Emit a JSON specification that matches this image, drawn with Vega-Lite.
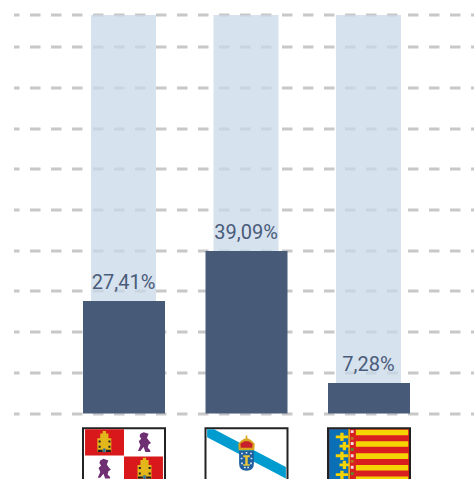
{
"$schema":"https://vega.github.io/schema/vega-lite/v6.json",
"width":460,"height":479,
"autosize":{"type":"none"},
"padding":{"left":14,"top":0,"right":0,"bottom":0},
"background":"white",
"config":{"view":{"stroke":null}},
"data":{"values":[
{"region":"Castilla y León","value":27.64,"label":"27,41%","background":97.9},
{"region":"Galicia","value":39.9,"label":"39,09%","background":97.9},
{"region":"Comunidad Valenciana","value":7.49,"label":"7,28%","background":97.9}
]},
"encoding":{
"x":{"field":"region","type":"nominal","sort":null,"axis":null,"scale":{"paddingInner":0,"paddingOuter":0.3776,"align":0.527}}
},
"layer":[
{"mark":{"type":"bar","width":65,"color":"#c8d8e8","opacity":0.75,"xOffset":-0.5},
 "encoding":{"y":{"field":"background","type":"quantitative","title":null,
  "scale":{"domain":[-16.09,101.6],"nice":false,"zero":false},
  "axis":{"values":[0,10,20,30,40,50,60,70,80,90,97.8],"translate":0,"labels":false,"ticks":false,"domain":false,"title":null,"grid":true,"gridColor":"#c8c8c8","gridWidth":2.8,"gridDash":[10.5,10.5],"gridDashOffset":5}}}},
{"mark":{"type":"bar","width":82,"color":"#475a77"},
 "encoding":{"y":{"field":"value","type":"quantitative","title":null}}},
{"mark":{"type":"text","font":"Roboto","fontSize":20,"color":"#4a5c7a","baseline":"alphabetic","dy":-12,"dx":-0.5},
 "encoding":{"y":{"field":"value","type":"quantitative","title":null},"text":{"field":"label"}}},

{"transform":[{"filter":"datum.region==='Castilla y León'"}],
 "layer":[
 {"mark":{"type":"point","shape":"M-1,-.675L1,-.675L1,.675L-1,.675Z","size":6724,"filled":true,"fill":"white","stroke":"#222222","strokeWidth":2,"opacity":1}},
 {"mark":{"type":"point","shape":"M-.95,-.65L0,-.65L0,-.012L-.95,-.012Z M0,.012L.95,.012L.95,.65L0,.65Z","size":6724,"filled":true,"color":"#d9181c","strokeWidth":0,"opacity":1}},
 {"mark":{"type":"point","shape":"M-.65,-.10L-.65,-.43L-.58,-.43L-.58,-.55L-.52,-.55L-.52,-.61L-.44,-.61L-.44,-.55L-.38,-.55L-.38,-.43L-.31,-.43L-.31,-.10Z M.33,.55L.33,.22L.40,.22L.40,.10L.46,.10L.46,.04L.54,.04L.54,.10L.60,.10L.60,.22L.67,.22L.67,.55Z","size":6724,"filled":true,"color":"#e3b71c","strokeWidth":0,"opacity":1}},
 {"mark":{"type":"point","shape":"M-.62,-.38h.05v.05h-.05z M-.62,-.25h.05v.05h-.05z M-.38,-.38h.05v.05h-.05z M-.38,-.25h.05v.05h-.05z M-.64,-.15h.12v.05h-.12z M-.44,-.15h.12v.05h-.12z M.36,.27h.05v.05h-.05z M.36,.40h.05v.05h-.05z M.60,.27h.05v.05h-.05z M.60,.40h.05v.05h-.05z M.34,.50h.12v.05h-.12z M.54,.50h.12v.05h-.12z","size":6724,"filled":true,"color":"#222222","strokeWidth":0,"opacity":1}},
 {"mark":{"type":"point","shape":"M-.51,-.18h.06v.09h-.06z M.47,.47h.06v.09h-.06z","size":6724,"filled":true,"color":"#2f6f9f","strokeWidth":0,"opacity":1}},
 {"mark":{"type":"point","shape":"M.4,-.54l.08,-.04l.12,.04l-.04,.1l.06,.08l.04,.04l-.06,.04l-.02,.08l.06,.06l0,.04l-.12,0l-.04,-.12l-.08,.1l-.06,0l.06,-.14l-.04,-.1l.06,-.06l-.04,-.06z M-.58,.11l.08,-.04l.12,.04l-.04,.1l.06,.08l.04,.04l-.06,.04l-.02,.08l.06,.06l0,.04l-.12,0l-.04,-.12l-.08,.1l-.06,0l.06,-.14l-.04,-.1l.06,-.06l-.04,-.06z","size":6724,"filled":true,"color":"#6f2f73","strokeWidth":0,"opacity":1}}
 ],
 "encoding":{"y":{"datum":-10.44,"type":"quantitative","title":null}}},

{"transform":[{"filter":"datum.region==='Galicia'"}],
 "layer":[
 {"mark":{"type":"point","shape":"M-1,-.675L1,-.675L1,.675L-1,.675Z","size":6724,"filled":true,"fill":"white","stroke":"#222222","strokeWidth":2,"opacity":1}},
 {"mark":{"type":"point","shape":"M-.96,-.65L-.79,-.65L.96,.27L.96,.55L-.96,-.46Z","size":6724,"filled":true,"color":"#009ccf","strokeWidth":0,"opacity":1}},
 {"mark":{"type":"point","shape":"M-.19,-.14L-.2,-.3Q-.1,-.42,0,-.44Q.1,-.42,.2,-.3L.19,-.14Z M-.02,-.5h.04v.08h-.04z","size":6724,"filled":true,"color":"#d9a520","strokeWidth":0,"opacity":1}},
 {"mark":{"type":"point","shape":"M-.14,-.2L-.15,-.3L-.05,-.36L.05,-.36L.15,-.3L.14,-.2Z","size":6724,"filled":true,"color":"#c8202a","strokeWidth":0,"opacity":1}},
 {"mark":{"type":"point","shape":"M-.18,-.13L.18,-.13L.18,.18Q.18,.35,0,.36Q-.18,.35,-.18,.18Z","size":6724,"filled":true,"color":"#1f5f9f","strokeWidth":0,"opacity":1}},
 {"mark":{"type":"point","shape":"M-.13,-.08h.04v.04h-.04z M.09,-.08h.04v.04h-.04z M-.02,-.1h.04v.04h-.04z M-.14,.04h.04v.04h-.04z M.1,.04h.04v.04h-.04z M-.13,.16h.04v.04h-.04z M.09,.16h.04v.04h-.04z M-.06,.26h.04v.04h-.04z M.02,.26h.04v.04h-.04z","size":6724,"filled":true,"color":"#e8eef4","strokeWidth":0,"opacity":1}},
 {"mark":{"type":"point","shape":"M-.08,-.02h.16v.05h-.05v.17h.05v.04h-.16v-.04h.05v-.17h-.05z","size":6724,"filled":true,"color":"#e8c63a","strokeWidth":0,"opacity":1}}
 ],
 "encoding":{"y":{"datum":-10.44,"type":"quantitative","title":null}}},

{"transform":[{"filter":"datum.region==='Comunidad Valenciana'"}],
 "layer":[
 {"mark":{"type":"point","shape":"M-1,-.675L1,-.675L1,.675L-1,.675Z","size":6724,"filled":true,"fill":"#d81e1e","stroke":"#222222","strokeWidth":2,"opacity":1}},
 {"mark":{"type":"point","shape":"M-.97,-.65L-.5,-.65L-.5,.65L-.97,.65Z","size":6724,"filled":true,"color":"#0a6fb5","strokeWidth":0,"opacity":1}},
 {"mark":{"type":"point","shape":"M-.5,-.65h.03v1.3h-.03z M-.32,-.643L.957,-.643L.957,-.506L-.32,-.506Z M-.32,-.361L.957,-.361L.957,-.224L-.32,-.224Z M-.32,-.065L.957,-.065L.957,.072L-.32,.072Z M-.32,.217L.957,.217L.957,.354L-.32,.354Z M-.32,.499L.957,.499L.957,.636L-.32,.636Z M-.81,-.5h.3v.07h-.3z M-.70,-.565h.08v.2h-.08z M-.72,-.275h.24v.07h-.24z M-.64,-.34h.08v.2h-.08z M-.81,-.04h.3v.07h-.3z M-.70,-.105h.08v.2h-.08z M-.72,.18h.24v.07h-.24z M-.64,.115h.08v.2h-.08z M-.81,.42h.3v.07h-.3z M-.70,.36h.08v.2h-.08z","size":6724,"filled":true,"color":"#f5d404","strokeWidth":0,"opacity":1}},
 {"mark":{"type":"point","shape":"M-.445,-.63h.07v.07h-.07z M-.445,-.34h.07v.07h-.07z M-.445,-.04h.07v.07h-.07z M-.445,.24h.07v.07h-.07z","size":6724,"filled":true,"color":"#f4dcdc","strokeWidth":0,"opacity":1}},
 {"mark":{"type":"point","shape":"M-.445,-.465h.07v.07h-.07z M-.445,.095h.07v.07h-.07z","size":6724,"filled":true,"color":"#b8791a","strokeWidth":0,"opacity":1}},
 {"mark":{"type":"point","shape":"M-.445,-.195h.07v.07h-.07z M-.445,.395h.07v.07h-.07z","size":6724,"filled":true,"color":"#5d8a2a","strokeWidth":0,"opacity":1}}
 ],
 "encoding":{"y":{"datum":-10.44,"type":"quantitative","title":null}}}
]
}
